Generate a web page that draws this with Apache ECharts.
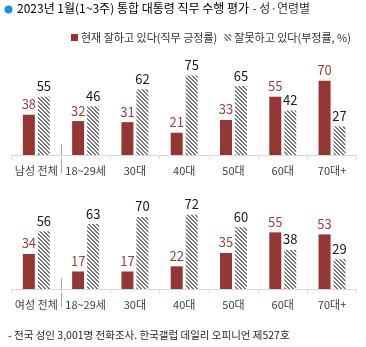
<!DOCTYPE html>
<html>
<head>
<meta charset="utf-8">
<script src="https://cdn.jsdelivr.net/npm/echarts@6/dist/echarts.min.js"></script>
<style>
html,body{margin:0;padding:0;background:#fff;}
#chart{width:366px;height:347px;}
</style>
</head>
<body>
<div id="chart"></div>
<script>
// ---- data ----
var maleCategories = ['남성 전체', '18~29세', '30대', '40대', '50대', '60대', '70대+'];
var femaleCategories = ['여성 전체', '18~29세', '30대', '40대', '50대', '60대', '70대+'];
var malePositive = [38, 32, 31, 21, 33, 55, 70];
var maleNegative = [55, 46, 62, 75, 65, 42, 27];
var femalePositive = [34, 17, 17, 22, 35, 55, 53];
var femaleNegative = [56, 63, 70, 72, 60, 38, 29];
var seriesNames = ['현재 잘하고 있다(직무 긍정률)', '잘못하고 있다(부정률, %)'];
var titleMain = '2023년 1월(1~3주) 통합 대통령 직무 수행 평가';
var titleSub = '- 성·연령별';
var footnote = '- 전국 성인 3,001명 전화조사. 한국갤럽 데일리 오피니언 제527호';

// ---- style ----
var FONT = '"Noto Sans CJK KR", "Noto Sans", sans-serif';
var RED = '#943634';
var RED_LABEL = '#a23f3d';

function makeHatch() {
  var c = document.createElement('canvas');
  c.width = 4; c.height = 4;
  var ctx = c.getContext('2d');
  ctx.fillStyle = '#ffffff';
  ctx.fillRect(0, 0, 4, 4);
  ctx.fillStyle = '#7a7a7a';
  for (var y = 0; y < 4; y++) {
    for (var x = 0; x < 4; x++) {
      var d = ((x - y) % 4 + 4) % 4;
      if (d === 0 || d === 1) ctx.fillRect(x, y, 1, 1);
    }
  }
  return c;
}
var hatch = { image: makeHatch(), repeat: 'repeat' };

var chart = echarts.init(document.getElementById('chart'), null, { renderer: 'canvas' });

function xAxisFor(idx, cats) {
  return {
    type: 'category', gridIndex: idx, data: cats,
    axisLine: { lineStyle: { color: '#d9d9d9', width: 1 } },
    axisTick: { show: true, length: 4, lineStyle: { color: '#d9d9d9' } },
    axisLabel: { margin: 10, fontSize: 11, color: '#404040', fontFamily: FONT, interval: 0 }
  };
}
function yAxisFor(idx) {
  return { type: 'value', gridIndex: idx, min: 0, max: 100, show: false, splitLine: { show: false } };
}
function barSeries(name, data, idx, isPos) {
  return {
    name: name, type: 'bar', xAxisIndex: idx, yAxisIndex: idx, data: data,
    barWidth: 12, barGap: '25%',
    itemStyle: { color: isPos ? RED : hatch },
    label: {
      show: true, position: 'top', distance: 4,
      fontSize: 13, fontFamily: FONT,
      color: isPos ? RED_LABEL : '#1a1a1a'
    },
    emphasis: { disabled: true },
    animation: false
  };
}

chart.setOption({
  animation: false,
  textStyle: { fontFamily: FONT },
  legend: {
    top: 27, left: 66, itemWidth: 7, itemHeight: 7, itemGap: 7,
    icon: 'rect',
    textStyle: { fontSize: 11, color: '#333', fontFamily: FONT, padding: [0, 0, 0, -2] },
    data: seriesNames
  },
  grid: [
    { left: 11.7, right: 9.3, top: 49, height: 106 },
    { left: 11.7, right: 9.3, top: 186, height: 103 }
  ],
  xAxis: [xAxisFor(0, maleCategories), xAxisFor(1, femaleCategories)],
  yAxis: [yAxisFor(0), yAxisFor(1)],
  series: [
    barSeries(seriesNames[0], malePositive, 0, true),
    barSeries(seriesNames[1], maleNegative, 0, false),
    barSeries(seriesNames[0], femalePositive, 1, true),
    barSeries(seriesNames[1], femaleNegative, 1, false)
  ]
});

// separators between total and age groups, plus title/footer
var g = [];
[0, 1].forEach(function (i) {
  var c0 = chart.convertToPixel({ xAxisIndex: i }, 0);
  var c1 = chart.convertToPixel({ xAxisIndex: i }, 1);
  var xs = (c0 + c1) / 2;
  var base = chart.convertToPixel({ yAxisIndex: i }, 0);
  g.push({
    type: 'line', shape: { x1: Math.round(xs) + 0.5, y1: base - 11, x2: Math.round(xs) + 0.5, y2: base + 18 },
    style: { stroke: '#a6a6a6', lineWidth: 1 }, silent: true
  });
});
g.push({ type: 'circle', shape: { cx: 8.5, cy: 9.5, r: 4 }, style: { fill: '#1a8fe3' } });
g.push({
  type: 'text', left: 17, top: 2,
  style: {
    text: '{a|' + titleMain + '} {b|' + titleSub + '}',
    rich: {
      a: { fontSize: 12, fontFamily: FONT, fill: '#000' },
      b: { fontSize: 12, fontFamily: FONT, fill: '#333' }
    }
  }
});
g.push({
  type: 'text', left: 8, top: 330,
  style: { text: footnote, fontSize: 10.5, fontFamily: FONT, fill: '#262626' }
});
chart.setOption({ graphic: g });
</script>
</body>
</html>
